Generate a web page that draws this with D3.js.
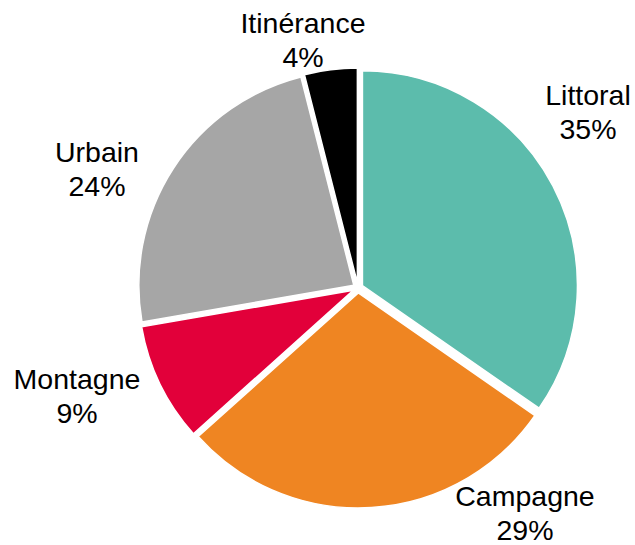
<!DOCTYPE html>
<html>
<head>
<meta charset="utf-8">
<script src="https://cdn.jsdelivr.net/npm/d3@7"></script>
<style>
  body { margin: 0; background: #fff; }
  svg { display: block; }
  text { font-family: "Liberation Sans", Arial, sans-serif; font-size: 28.5px; fill: #000; }
</style>
</head>
<body>
<svg width="635" height="545"></svg>
<script>
var categories = ["Littoral", "Campagne", "Montagne", "Urbain", "Itinérance"];
var values = [35, 29, 9, 24, 4];
var colors = ["#5CBCAC", "#EF8522", "#E2003A", "#A6A6A6", "#000000"];

// where each label sits (centre x, first baseline y)
var labelPos = {
  "Littoral": [588, 105],
  "Campagne": [525, 506],
  "Montagne": [77, 389],
  "Urbain": [97, 162],
  "Itinérance": [303, 33]
};

var mySVG = d3.select("svg");
var cx = 358, cy = 288, radius = 215, explode = 5;

var data = categories.map(function(c, i){ return {name: c, value: values[i], color: colors[i]}; });

var pie = d3.pie().sort(null).value(function(d){ return d.value; });
var arc = d3.arc().innerRadius(0).outerRadius(radius);

var g = mySVG.append("g").attr("transform", "translate(" + cx + "," + cy + ")");

g.selectAll("path")
  .data(pie(data))
  .join("path")
  .attr("d", arc)
  .attr("fill", function(d){ return d.data.color; })
  .attr("stroke", "#fff")
  .attr("stroke-width", 1.5)
  .attr("transform", function(d){
    var a = (d.startAngle + d.endAngle) / 2;
    return "translate(" + (Math.sin(a) * explode) + "," + (-Math.cos(a) * explode) + ")";
  });

var labels = mySVG.selectAll("text.lbl")
  .data(data)
  .join("text")
  .attr("class", "lbl")
  .attr("text-anchor", "middle")
  .attr("x", function(d){ return labelPos[d.name][0]; })
  .attr("y", function(d){ return labelPos[d.name][1]; });

labels.append("tspan").text(function(d){ return d.name; });
labels.append("tspan")
  .attr("x", function(d){ return labelPos[d.name][0]; })
  .attr("dy", 33.5)
  .text(function(d){ return d.value + "%"; });
</script>
</body>
</html>
